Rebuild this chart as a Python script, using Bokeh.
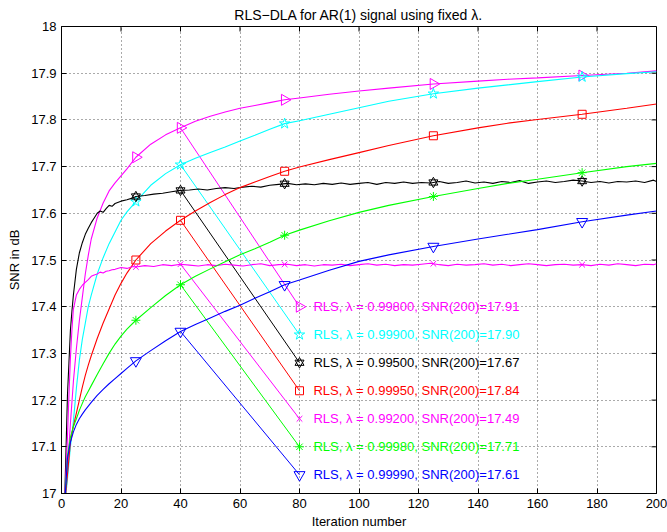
import numpy as np
from bokeh.plotting import figure
from bokeh.models import Range1d, FixedTicker, CustomJSTickFormatter
from bokeh.core.properties import value
from bokeh.embed import file_html
from bokeh.resources import INLINE

# ---------------- data ----------------
iters = [1, 2, 3, 4, 5, 6, 7, 8, 9, 10,
         12, 14, 16, 18, 20, 22,
         25, 30, 35, 40, 45, 50, 55, 60, 65, 70, 75, 80,
         90, 100, 110, 125, 140, 150, 160, 175, 190, 200]

snr_99800 = [16.97, 17.05, 17.15, 17.24, 17.31, 17.37, 17.42, 17.47, 17.51, 17.545,
             17.59, 17.622, 17.648, 17.665, 17.68, 17.695,
             17.720, 17.748, 17.768, 17.783, 17.797, 17.808, 17.817, 17.825, 17.831, 17.837, 17.843, 17.847,
             17.855, 17.862, 17.868, 17.877, 17.883, 17.887, 17.890, 17.895, 17.900, 17.905]
snr_99900 = [16.97, 17.03, 17.10, 17.155, 17.225, 17.285, 17.33, 17.365, 17.40, 17.425,
             17.47, 17.505, 17.535, 17.56, 17.585, 17.603,
             17.625, 17.660, 17.685, 17.704, 17.718, 17.730, 17.742, 17.755, 17.767, 17.780, 17.792, 17.798,
             17.812, 17.826, 17.840, 17.856, 17.868, 17.875, 17.882, 17.892, 17.899, 17.903]
snr_99950 = [16.97, 17.04, 17.11, 17.145, 17.172, 17.20, 17.228, 17.253, 17.275, 17.295,
             17.332, 17.365, 17.395, 17.425, 17.45, 17.472,
             17.500, 17.535, 17.562, 17.585, 17.605, 17.623, 17.640, 17.655, 17.667, 17.679, 17.690, 17.699,
             17.715, 17.730, 17.745, 17.766, 17.783, 17.793, 17.801, 17.812, 17.825, 17.834]
snr_99980 = [16.97, 17.08, 17.12, 17.143, 17.16, 17.178, 17.193, 17.207, 17.219, 17.231,
             17.255, 17.278, 17.30, 17.32, 17.337, 17.352,
             17.371, 17.398, 17.424, 17.447, 17.465, 17.481, 17.496, 17.511, 17.524, 17.538, 17.553, 17.564,
             17.584, 17.602, 17.617, 17.636, 17.653, 17.664, 17.673, 17.687, 17.700, 17.707]
snr_99990 = [16.97, 17.075, 17.11, 17.132, 17.148, 17.16, 17.17, 17.179, 17.187, 17.195,
             17.21, 17.223, 17.235, 17.246, 17.257, 17.268,
             17.284, 17.306, 17.327, 17.347, 17.362, 17.376, 17.39, 17.403, 17.418, 17.432, 17.447, 17.457,
             17.478, 17.497, 17.511, 17.529, 17.545, 17.555, 17.565, 17.582, 17.596, 17.605]

iters_fine = ([1, 2, 2.5, 3, 3.5, 4, 5, 6, 7, 8, 9, 10, 11, 12, 13, 14, 15, 16, 17, 18, 20, 22, 24, 25]
              + list(range(28, 200, 3)) + [200])

snr_99500 = [16.97, 17.21, 17.28, 17.35, 17.39, 17.425, 17.48, 17.515, 17.537, 17.555, 17.568, 17.58,
             17.59, 17.60, 17.605, 17.602, 17.61, 17.617, 17.615, 17.621, 17.626, 17.629, 17.633, 17.636,
             17.638, 17.641, 17.643, 17.646, 17.649, 17.650, 17.652, 17.650, 17.653, 17.655,
             17.653, 17.656, 17.658, 17.656, 17.660, 17.662, 17.664, 17.661, 17.663, 17.661,
             17.664, 17.662, 17.665, 17.662, 17.664, 17.666, 17.662, 17.666, 17.664, 17.667,
             17.664, 17.666, 17.665, 17.668, 17.664, 17.666, 17.669, 17.665, 17.667, 17.664,
             17.668, 17.666, 17.670, 17.664, 17.667, 17.669, 17.666, 17.668, 17.671, 17.669,
             17.666, 17.668, 17.665, 17.668, 17.667, 17.669, 17.666, 17.671,
             17.668]
snr_99200 = [16.97, 17.12, 17.21, 17.29, 17.35, 17.395, 17.425, 17.437, 17.446, 17.452, 17.458, 17.465,
             17.468, 17.470, 17.474, 17.472, 17.476, 17.477, 17.479, 17.480, 17.484, 17.482, 17.486, 17.485,
             17.488, 17.486, 17.490, 17.488, 17.491, 17.489, 17.487, 17.490, 17.488, 17.491,
             17.489, 17.487, 17.490, 17.492, 17.488, 17.490, 17.491, 17.488, 17.490, 17.487,
             17.490, 17.489, 17.491, 17.488, 17.490, 17.492, 17.489, 17.491, 17.488, 17.490,
             17.489, 17.491, 17.493, 17.490, 17.488, 17.491, 17.489, 17.490, 17.492, 17.489,
             17.491, 17.488, 17.490, 17.492, 17.490, 17.488, 17.490, 17.491, 17.489, 17.490,
             17.488, 17.491, 17.489, 17.492, 17.490, 17.488, 17.491, 17.490,
             17.492]

marker_iters = [25, 40, 75, 125, 175]
lambdas = ["0.99800", "0.99900", "0.99500", "0.99950", "0.99200", "0.99980", "0.99990"]
snr_at_200 = ["17.91", "17.90", "17.67", "17.84", "17.49", "17.71", "17.61"]
x_ticks = [0, 20, 40, 60, 80, 100, 120, 140, 160, 180, 200]
y_ticks = [17.0, 17.1, 17.2, 17.3, 17.4, 17.5, 17.6, 17.7, 17.8, 17.9, 18.0]
title_text = "RLS\u2212DLA for AR(1) signal using fixed \u03bb."

# ---------------- styling ----------------
series = [
    (iters, snr_99800, "#ff00ff", "tri_right"),
    (iters, snr_99900, "#00ffff", "star"),
    (iters_fine, snr_99500, "#000000", "hexagram"),
    (iters, snr_99950, "#ff0000", "square"),
    (iters_fine, snr_99200, "#ff00ff", "x"),
    (iters, snr_99980, "#00ff00", "asterisk"),
    (iters, snr_99990, "#0000ff", "inv_tri"),
]
LABEL_TOP = 17.40
LABEL_STEP = 0.06
LINK_FROM = 40
LINK_TO = 80
TEXT_X = 84.7
FONT = "Liberation Sans"
X0, X1, Y0, Y1 = 0, 200, 17, 18

p = figure(width=667, height=532, output_backend="svg", toolbar_location=None,
           x_range=Range1d(X0, X1), y_range=Range1d(Y0, Y1),
           min_border_left=61, min_border_right=11, min_border_top=26, min_border_bottom=39,
           background_fill_color="white", border_fill_color="white",
           title=title_text)
p.title.align = "center"
p.title.text_font = FONT
p.title.text_font_size = "14px"
p.title.text_font_style = "normal"
p.title.text_color = "black"
p.title.standoff = 7
p.title.offset = 0

p.outline_line_color = "black"
p.outline_line_width = 1

# grid
p.grid.grid_line_color = "#555555"
p.grid.grid_line_dash = "1 3"
p.grid.grid_line_width = 1


def draw_marker(xs, ys, kind, color):
    kw = dict(fill_color=None, line_color=color, line_width=1)
    if kind == "tri_right":
        p.scatter(xs, ys, marker="triangle", angle=-np.pi / 2, size=11, **kw)
    elif kind == "star":
        p.scatter(xs, ys, marker="star", size=11, **kw)
    elif kind == "hexagram":
        p.scatter(xs, ys, marker="triangle", size=9, **kw)
        p.scatter(xs, ys, marker="inverted_triangle", size=9, **kw)
    elif kind == "square":
        p.scatter(xs, ys, marker="square", size=8, **kw)
    elif kind == "x":
        p.scatter(xs, ys, marker="x", size=8, **kw)
    elif kind == "asterisk":
        p.scatter(xs, ys, marker="asterisk", size=9, **kw)
    elif kind == "inv_tri":
        p.scatter(xs, ys, marker="inverted_triangle", size=11, **kw)


for i, (xs, ys, color, kind) in enumerate(series):
    p.line(xs, ys, line_color=color, line_width=1.1)
    my = list(np.interp(marker_iters, xs, ys))
    draw_marker(marker_iters, my, kind, color)
    ly = LABEL_TOP - i * LABEL_STEP
    y_from = float(np.interp(LINK_FROM, xs, ys))
    p.line([LINK_FROM, LINK_TO], [y_from, ly], line_color=color, line_width=1)
    draw_marker([LINK_TO], [ly], kind, color)
    p.text(x=[TEXT_X], y=[ly], text=[f"RLS, \u03bb = {lambdas[i]}, SNR(200)={snr_at_200[i]}"],
           text_color=color, text_font=value(FONT), text_font_size="13px",
           text_baseline="middle", text_align="left")

# axes
p.xaxis.ticker = FixedTicker(ticks=x_ticks)
p.yaxis.ticker = FixedTicker(ticks=y_ticks)
p.yaxis.formatter = CustomJSTickFormatter(code="return Number(tick.toFixed(1)).toString();")
for ax in (p.xaxis[0], p.yaxis[0]):
    ax.major_tick_in = 5
    ax.major_tick_out = 0
    ax.minor_tick_line_color = None
    ax.axis_line_color = "black"
    ax.major_tick_line_color = "black"
    ax.major_label_text_font = FONT
    ax.major_label_text_font_size = "13px"
    ax.major_label_text_color = "black"
    ax.axis_label_text_font = FONT
    ax.axis_label_text_font_size = "13px"
    ax.axis_label_text_font_style = "normal"
    ax.axis_label_text_color = "black"
    ax.major_label_standoff = 5
p.xaxis.axis_label = "Iteration number"
p.yaxis.axis_label = "SNR in dB"
p.xaxis.axis_label_standoff = 3
p.yaxis.axis_label_standoff = 6

# mirrored ticks on the top and right edges of the box (5 px long)
tick_dy = 5 * (Y1 - Y0) / 467
tick_dx = 5 * (X1 - X0) / 595
p.segment(x0=x_ticks, y0=[Y1] * len(x_ticks), x1=x_ticks, y1=[Y1 - tick_dy] * len(x_ticks),
          line_color="black", line_width=1)
p.segment(x0=[X1] * len(y_ticks), y0=y_ticks, x1=[X1 - tick_dx] * len(y_ticks), y1=y_ticks,
          line_color="black", line_width=1)

open("out.html", "w").write(file_html(p, INLINE))
